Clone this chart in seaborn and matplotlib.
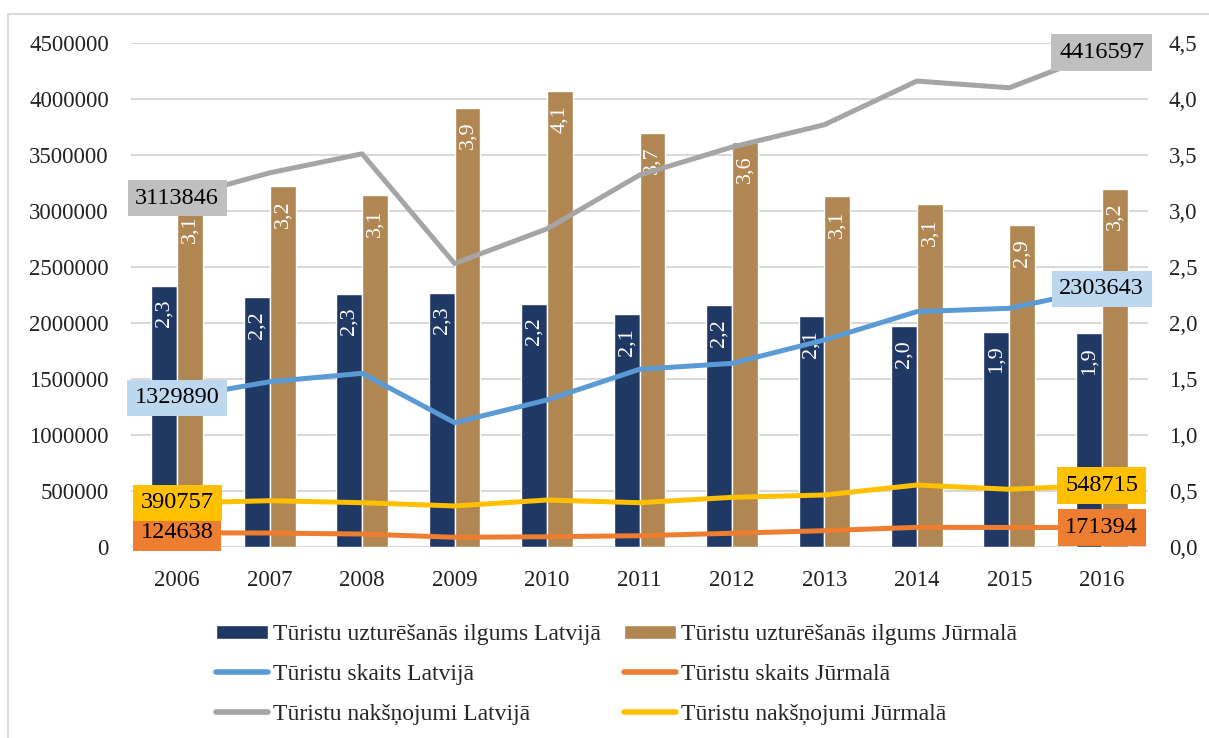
import numpy as np
import pandas as pd
import matplotlib
matplotlib.use('Agg')
import matplotlib.pyplot as plt
from matplotlib.patches import Rectangle, Patch
from matplotlib.lines import Line2D
from matplotlib.ticker import FuncFormatter, MultipleLocator
import seaborn as sns

years = ['2006', '2007', '2008', '2009', '2010', '2011', '2012', '2013', '2014', '2015', '2016']

# bars, right axis (days)
stay_lv = [2.33, 2.23, 2.26, 2.27, 2.17, 2.08, 2.16, 2.06, 1.97, 1.92, 1.91]
stay_jur = [3.08, 3.22, 3.14, 3.92, 4.07, 3.70, 3.62, 3.13, 3.06, 2.87, 3.20]

# lines, left axis
tourists_lv = [1329890, 1474000, 1549000, 1108000, 1311000, 1585000, 1638000, 1847000, 2100000, 2130000, 2303643]
tourists_jur = [124638, 122000, 113000, 84000, 89000, 98000, 120000, 143000, 173000, 172000, 171394]
nights_lv = [3113846, 3340000, 3510000, 2530000, 2840000, 3320000, 3570000, 3770000, 4160000, 4100000, 4416597]
nights_jur = [390757, 411000, 393000, 364000, 417000, 393000, 441000, 462000, 551000, 513000, 548715]

bar_names = ['Tūristu uzturēšanās ilgums Latvijā', 'Tūristu uzturēšanās ilgums Jūrmalā']
bar_colors = ['#203864', '#B08752']
line_names = ['Tūristu skaits Latvijā', 'Tūristu skaits Jūrmalā',
              'Tūristu nakšņojumi Latvijā', 'Tūristu nakšņojumi Jūrmalā']
line_colors = ['#5B9BD5', '#ED7D31', '#A5A5A5', '#FFC000']
label_boxes = ['#BDD7EE', '#ED7D31', '#BFBFBF', '#FFC000']

sns.set_theme(style='white')
plt.rcParams['font.family'] = ['Liberation Serif', 'DejaVu Serif']
FS = 16.5

bars_df = pd.DataFrame({
    'year': years * 2,
    'value': stay_lv + stay_jur,
    'series': [bar_names[0]] * len(years) + [bar_names[1]] * len(years),
})
lines_df = pd.concat([
    pd.DataFrame({'year': years, 'value': vals, 'series': name})
    for name, vals in zip(line_names, [tourists_lv, tourists_jur, nights_lv, nights_jur])
], ignore_index=True)

fig = plt.figure(figsize=(12.09, 7.38), dpi=100)
ax2 = fig.add_axes([131 / 1209, 1 - 546.7 / 738, (1148 - 131) / 1209, (546.7 - 43) / 738])
ax = ax2.twinx()

# bars on the right axis (drawn underneath)
sns.barplot(data=bars_df, x='year', y='value', hue='series', palette=bar_colors,
            width=0.56, saturation=1, ax=ax2, legend=False)
ax2.set_ylim(0, 4.5)
ax2.yaxis.set_major_locator(MultipleLocator(0.5))
ax2.yaxis.set_major_formatter(FuncFormatter(lambda v, p: f'{v:.1f}'.replace('.', ',')))
ax2.yaxis.tick_right()
ax2.grid(axis='y', color='#D9D9D9', linewidth=1.5)
ax2.set_axisbelow(True)

for cont in ax2.containers:
    for p in cont:
        h = p.get_height()
        ax2.annotate(f'{h:.1f}'.replace('.', ','), (p.get_x() + p.get_width() / 2, h),
                     xytext=(0, -10), textcoords='offset points', rotation=90,
                     ha='center', va='top', color='white', fontsize=16)

# lines on the left axis
ax.set_zorder(ax2.get_zorder() + 1)
ax.patch.set_visible(False)
sns.lineplot(data=lines_df, x='year', y='value', hue='series', palette=line_colors,
             linewidth=3.6, sort=False, ax=ax, legend=False)
ax.set_ylim(0, 4500000)
ax.yaxis.set_major_locator(MultipleLocator(500000))
ax.yaxis.set_major_formatter(FuncFormatter(lambda v, p: f'{v:.0f}'))
ax.yaxis.tick_left()

for vals, box in zip([tourists_lv, tourists_jur, nights_lv, nights_jur], label_boxes):
    for i in (0, len(years) - 1):
        ax.text(i, vals[i], str(vals[i]), ha='center', va='center', fontsize=17.5, color='black',
                bbox=dict(boxstyle='square,pad=0.32', facecolor=box, edgecolor='none'), zorder=5)

ax2.set_xlim(-0.5, len(years) - 0.5)
for a in (ax, ax2):
    a.set_xlabel('')
    a.set_ylabel('')
    for s in a.spines.values():
        s.set_visible(False)
    a.tick_params(axis='both', length=0, labelsize=FS, colors='#222222')
ax2.tick_params(axis='x', pad=17)
ax2.tick_params(axis='y', pad=15)
ax.tick_params(axis='y', pad=16)

handles = [
    Patch(facecolor=bar_colors[0], label=bar_names[0]),
    Line2D([], [], color=line_colors[0], lw=4, solid_capstyle='round', label=line_names[0]),
    Line2D([], [], color=line_colors[2], lw=4, solid_capstyle='round', label=line_names[2]),
    Patch(facecolor=bar_colors[1], label=bar_names[1]),
    Line2D([], [], color=line_colors[1], lw=4, solid_capstyle='round', label=line_names[1]),
    Line2D([], [], color=line_colors[3], lw=4, solid_capstyle='round', label=line_names[3]),
]
fig.legend(handles=handles, ncol=2, loc='upper center', bbox_to_anchor=(0.51, 0.183),
           frameon=False, fontsize=17, handlelength=2.2, handleheight=0.55, handletextpad=0.2,
           labelspacing=0.8, columnspacing=1.0)

fig.patches.append(Rectangle((8 / 1209, -0.1), 1.2, 1 - 14 / 738 + 0.1, transform=fig.transFigure,
                             fill=False, edgecolor='#D9D9D9', linewidth=1.5))

fig.savefig('out.png', dpi=100)
